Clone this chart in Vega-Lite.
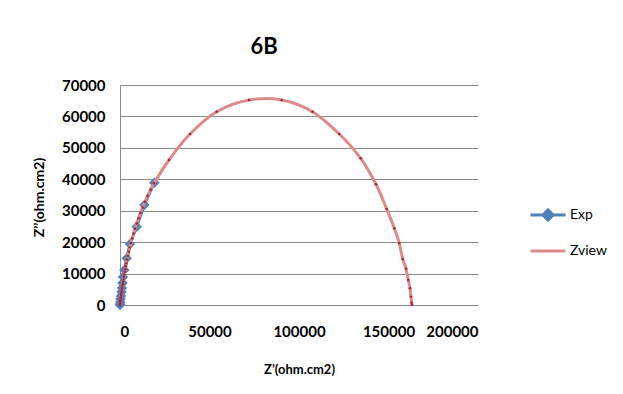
{
  "$schema": "https://vega.github.io/schema/vega-lite/v6.json",
  "width": 358,
  "height": 220,
  "autosize": {"type": "none"},
  "padding": {"left": 120, "top": 85, "right": 145, "bottom": 89},
  "background": "white",
  "config": {
    "view": {"stroke": null},
    "font": "Lato"
  },
  "title": {"text": "6B", "font": "Lato", "fontSize": 22, "fontWeight": "bold", "color": "black", "anchor": "middle", "dx": -35, "offset": 2, "baseline": "alphabetic"},
  "datasets": {
    "exp": [
      {"zre": 0, "zim": 0, "series": "Exp"},
      {"zre": 60, "zim": 320, "series": "Exp"},
      {"zre": 170, "zim": 950, "series": "Exp"},
      {"zre": 280, "zim": 1900, "series": "Exp"},
      {"zre": 560, "zim": 2860, "series": "Exp"},
      {"zre": 840, "zim": 4140, "series": "Exp"},
      {"zre": 1120, "zim": 5410, "series": "Exp"},
      {"zre": 1400, "zim": 7000, "series": "Exp"},
      {"zre": 1680, "zim": 8910, "series": "Exp"},
      {"zre": 2400, "zim": 11136, "series": "Exp"},
      {"zre": 3743, "zim": 14859, "series": "Exp"},
      {"zre": 5587, "zim": 19409, "series": "Exp"},
      {"zre": 9330, "zim": 24914, "series": "Exp"},
      {"zre": 13575, "zim": 31818, "series": "Exp"},
      {"zre": 19162, "zim": 38914, "series": "Exp"}
    ],
    "zview": [
      {"zre": 0, "zim": 0, "series": "Zview"},
      {"zre": 30, "zim": 200, "series": "Zview"},
      {"zre": 60, "zim": 400, "series": "Zview"},
      {"zre": 100, "zim": 650, "series": "Zview"},
      {"zre": 150, "zim": 900, "series": "Zview"},
      {"zre": 210, "zim": 1250, "series": "Zview"},
      {"zre": 280, "zim": 1600, "series": "Zview"},
      {"zre": 360, "zim": 2000, "series": "Zview"},
      {"zre": 450, "zim": 2400, "series": "Zview"},
      {"zre": 550, "zim": 2850, "series": "Zview"},
      {"zre": 650, "zim": 3300, "series": "Zview"},
      {"zre": 770, "zim": 3800, "series": "Zview"},
      {"zre": 900, "zim": 4300, "series": "Zview"},
      {"zre": 1050, "zim": 4850, "series": "Zview"},
      {"zre": 1200, "zim": 5400, "series": "Zview"},
      {"zre": 1370, "zim": 6050, "series": "Zview"},
      {"zre": 1550, "zim": 6700, "series": "Zview"},
      {"zre": 1750, "zim": 7400, "series": "Zview"},
      {"zre": 1950, "zim": 8100, "series": "Zview"},
      {"zre": 2170, "zim": 8900, "series": "Zview"},
      {"zre": 2400, "zim": 9700, "series": "Zview"},
      {"zre": 2670, "zim": 10550, "series": "Zview"},
      {"zre": 2950, "zim": 11400, "series": "Zview"},
      {"zre": 3270, "zim": 12350, "series": "Zview"},
      {"zre": 3600, "zim": 13300, "series": "Zview"},
      {"zre": 4000, "zim": 14450, "series": "Zview"},
      {"zre": 4450, "zim": 15600, "series": "Zview"},
      {"zre": 4950, "zim": 16950, "series": "Zview"},
      {"zre": 5500, "zim": 18300, "series": "Zview"},
      {"zre": 6100, "zim": 19700, "series": "Zview"},
      {"zre": 6800, "zim": 21200, "series": "Zview"},
      {"zre": 7600, "zim": 22750, "series": "Zview"},
      {"zre": 8400, "zim": 24300, "series": "Zview"},
      {"zre": 9300, "zim": 25950, "series": "Zview"},
      {"zre": 10300, "zim": 27600, "series": "Zview"},
      {"zre": 11400, "zim": 29300, "series": "Zview"},
      {"zre": 12600, "zim": 31000, "series": "Zview"},
      {"zre": 13900, "zim": 32850, "series": "Zview"},
      {"zre": 15400, "zim": 34700, "series": "Zview"},
      {"zre": 17100, "zim": 36700, "series": "Zview"},
      {"zre": 19000, "zim": 38700, "series": "Zview"},
      {"zre": 27374, "zim": 46136, "series": "Zview"},
      {"zre": 39106, "zim": 54409, "series": "Zview"},
      {"zre": 54022, "zim": 61505, "series": "Zview"},
      {"zre": 72067, "zim": 65227, "series": "Zview"},
      {"zre": 90335, "zim": 65227, "series": "Zview"},
      {"zre": 107542, "zim": 61505, "series": "Zview"},
      {"zre": 122514, "zim": 54409, "series": "Zview"},
      {"zre": 134469, "zim": 46677, "series": "Zview"},
      {"zre": 143017, "zim": 38404, "series": "Zview"},
      {"zre": 148994, "zim": 30545, "series": "Zview"},
      {"zre": 153240, "zim": 24405, "series": "Zview"},
      {"zre": 156034, "zim": 19632, "series": "Zview"},
      {"zre": 157933, "zim": 14636, "series": "Zview"},
      {"zre": 159777, "zim": 11550, "series": "Zview"},
      {"zre": 161061, "zim": 7955, "series": "Zview"},
      {"zre": 162011, "zim": 5314, "series": "Zview"},
      {"zre": 162570, "zim": 2641, "series": "Zview"},
      {"zre": 162961, "zim": 732, "series": "Zview"},
      {"zre": 163128, "zim": 0, "series": "Zview"}
    ]
  },
  "encoding": {
    "x": {
      "field": "zre", "type": "quantitative",
      "scale": {"domain": [0, 200000], "nice": false, "zero": true},
      "axis": {
        "title": "Z’(ohm.cm2)",
        "values": [0, 50000, 100000, 150000, 200000],
        "format": "d",
        "grid": false,
        "ticks": false, "tickSize": 0,
        "domainColor": "#8a8a8a", "domainWidth": 1,
        "labelPadding": 19,
        "labelFont": "Lato", "labelFontSize": 15, "labelFontWeight": "bold", "labelColor": "black",
        "titleFont": "Lato", "titleFontSize": 13, "titleFontWeight": "bold", "titleColor": "black",
        "titleBaseline": "middle", "titleY": 64
      }
    },
    "y": {
      "field": "zim", "type": "quantitative",
      "scale": {"domain": [0, 70000], "nice": false},
      "axis": {
        "title": "Z’’(ohm.cm2)",
        "values": [0, 10000, 20000, 30000, 40000, 50000, 60000, 70000],
        "format": "d",
        "grid": true, "gridColor": "#8a8a8a", "gridWidth": 1,
        "ticks": false, "tickSize": 0,
        "domainColor": "#8a8a8a", "domainWidth": 1,
        "labelPadding": 15,
        "labelFont": "Lato", "labelFontSize": 15, "labelFontWeight": "bold", "labelColor": "black",
        "titleFont": "Lato", "titleFontSize": 14, "titleFontWeight": "bold", "titleColor": "black",
        "titleAngle": -90, "titleBaseline": "middle", "titleAlign": "center",
        "titleX": -81, "titleY": 112
      }
    }
  },
  "layer": [
    {
      "data": {"name": "exp"},
      "mark": {"type": "line", "strokeWidth": 3},
      "encoding": {
        "color": {
          "field": "series", "type": "nominal",
          "scale": {"domain": ["Exp", "Zview"], "range": ["#4F81BD", "#DE8A8D"]},
          "legend": {
            "orient": "none", "legendX": 409, "legendY": 111,
            "title": null, "padding": 0,
            "symbolSize": 1225, "symbolStrokeWidth": 3,
            "labelFont": "Lato", "labelFontSize": 14, "labelColor": "black", "labelOffset": 3,
            "rowPadding": 5,
            "encode": {
              "symbols": {
                "update": {
                  "shape": {"signal": "datum.value === 'Exp' ? 'M-1,0H1M0,-0.29L0.29,0L0,0.29L-0.29,0Z' : 'M-1,0H1'"},
                  "fill": {"signal": "datum.value === 'Exp' ? '#4F81BD' : 'transparent'"},
                  "stroke": {"signal": "datum.value === 'Exp' ? '#4F81BD' : '#DE8A8D'"},
                  "strokeWidth": {"value": 3}
                }
              }
            }
          }
        }
      }
    },
    {
      "data": {"name": "exp"},
      "mark": {"type": "point", "shape": "diamond", "filled": true, "size": 110, "color": "#4F81BD", "opacity": 1}
    },
    {
      "data": {"name": "zview"},
      "mark": {"type": "line", "strokeWidth": 3, "interpolate": "catmull-rom"},
      "encoding": {
        "color": {"field": "series", "type": "nominal"}
      }
    },
    {
      "data": {"name": "zview"},
      "mark": {"type": "point", "shape": "circle", "filled": true, "size": 7, "color": "#A8283A", "opacity": 1}
    }
  ]
}
